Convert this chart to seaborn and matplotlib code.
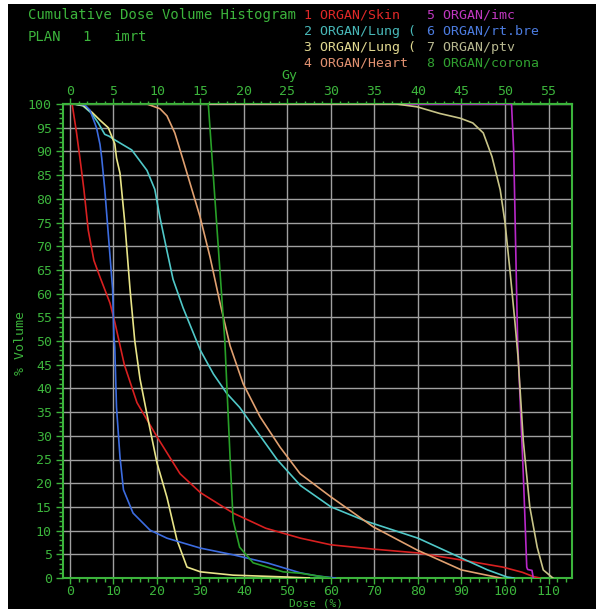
import numpy as np
import pandas as pd
import matplotlib
matplotlib.use("Agg")
import matplotlib.pyplot as plt
from matplotlib.patches import Rectangle
from matplotlib.ticker import MultipleLocator
import seaborn as sns

# ---------------- data (dose in %, volume in %) ----------------
skin_x = [0, 0.5, 1.5, 2.3, 3.2, 4.2, 5.5, 6.9, 9.2, 10.3, 12.5, 15.4, 20, 25.3, 30, 37.5, 45, 53, 60, 69.7, 79.8, 90, 99.5, 104, 106.5, 108]
skin_y = [100, 100, 94, 88.5, 82, 73.4, 67, 63.5, 58, 54, 45, 37, 29.8, 22, 18, 13.7, 10.5, 8.4, 7, 6.1, 5.3, 3.8, 2.3, 1.2, 0.3, 0]

lung1_x = [1, 3, 5, 6.5, 8, 9, 10, 12, 14.2, 17.7, 19.5, 20.7, 22.3, 23.7, 26, 30, 33, 36, 39, 43.7, 47.6, 53, 60, 68, 80, 90, 96, 100.5, 102]
lung1_y = [100, 99.6, 98, 96, 93.6, 93.2, 92.6, 91.5, 90.3, 86, 82, 76, 69, 63, 57, 48, 43, 39, 36, 30, 25, 19.5, 15, 12, 8.4, 4.2, 1.7, 0.2, 0]

lung2_x = [1, 3, 5, 7, 8.8, 10.3, 10.7, 11.5, 12.6, 13.8, 14.9, 16.1, 17.6, 20, 22.3, 24.6, 26.9, 30, 37.5, 50, 55]
lung2_y = [100, 99.7, 98.3, 96.5, 95, 91.6, 88.6, 85.4, 75, 61, 50, 42, 35, 24.3, 17, 8, 2.3, 1.3, 0.6, 0.2, 0]

heart_x = [0, 17.7, 20.7, 22.3, 24.1, 26, 29.9, 32.2, 34.5, 36.8, 39.8, 43.7, 48.3, 52.9, 60, 69.7, 79.8, 90, 95.8, 99]
heart_y = [100, 100, 99, 97.5, 93.9, 88.2, 76.2, 67.7, 58, 49, 41, 34, 27.6, 22, 17.1, 10.8, 5.9, 1.7, 0.6, 0]

imc_x = [0, 101.5, 102.0, 102.9, 104.2, 105.0, 105.2, 106.2, 106.5]
imc_y = [100, 100, 90, 50, 22, 2.3, 1.8, 1.6, 0]

rtbre_x = [1.6, 3.4, 4.6, 6.1, 6.9, 7.3, 8.0, 8.6, 9.2, 9.8, 10.1, 10.3, 10.7, 11.5, 12.3, 14.5, 18.4, 22.3, 30, 37.5, 45.3, 52.9, 57, 61]
rtbre_y = [100, 99.8, 98.7, 95, 91.5, 88.6, 82, 75, 68, 61, 51, 48.7, 36, 25.5, 18.6, 13.7, 10.1, 8.4, 6.3, 4.9, 3.2, 1.1, 0.4, 0]

ptv_x = [0, 75, 79.8, 85, 89.7, 92.6, 95, 97, 98.9, 100, 101.2, 102.3, 103, 104.2, 105.7, 107.4, 108.8, 111]
ptv_y = [100, 100, 99.4, 98, 97, 96, 93.9, 88.9, 81.9, 75, 64.3, 53.8, 46.6, 29, 15, 6.5, 1.7, 0]

corona_x = [0, 31.8, 33.7, 35.6, 36.8, 37.5, 39, 42.1, 49, 53, 60]
corona_y = [100, 100, 75, 50, 25.5, 12.2, 6.5, 3.2, 1.3, 1, 0]

organ_labels = ["1 ORGAN/Skin", "2 ORGAN/Lung (", "3 ORGAN/Lung (", "4 ORGAN/Heart",
                "5 ORGAN/imc", "6 ORGAN/rt.bre", "7 ORGAN/ptv", "8 ORGAN/corona"]
line_colors = ["#d82020", "#50c8c8", "#e8e488", "#e0a070", "#b828c8", "#3c6ce0", "#c8c488", "#28a028"]
text_colors = ["#e02828", "#48b8b8", "#e0d890", "#e09070", "#c038c0", "#4c7ce0", "#b8b890", "#30a030"]

bottom_ticks = list(range(0, 111, 10))
top_ticks = list(range(0, 56, 5))
y_ticks = list(range(0, 101, 5))

curves = [(skin_x, skin_y), (lung1_x, lung1_y), (lung2_x, lung2_y), (heart_x, heart_y),
          (imc_x, imc_y), (rtbre_x, rtbre_y), (ptv_x, ptv_y), (corona_x, corona_y)]
frames = []
for lab, (xs, ys) in zip(organ_labels, curves):
    frames.append(pd.DataFrame({"dose": xs, "volume": ys, "organ": lab}))
df = pd.concat(frames, ignore_index=True)

# ---------------- figure ----------------
W, H = 600, 609
GREEN = "#3cb43c"
MONO = "DejaVu Sans Mono"

fig = plt.figure(figsize=(W / 100, H / 100), dpi=100)
fig.patch.set_facecolor("white")
fig.add_artist(Rectangle((8 / W, 0), (596 - 8) / W, (H - 4) / H, transform=fig.transFigure,
                         facecolor="black", edgecolor="none", zorder=-10))

def fx(px):
    return px / W

def fy(py):
    return 1 - py / H

ax = fig.add_axes([fx(63), fy(578), (572 - 63) / W, (578 - 104) / H])
ax.set_facecolor("black")

sns.lineplot(data=df, x="dose", y="volume", hue="organ", hue_order=organ_labels,
             palette=dict(zip(organ_labels, line_colors)), estimator=None, sort=False,
             linewidth=1.2, legend=False, ax=ax, zorder=3)

ax.set_xlim(-1.6, 115.4)
ax.set_ylim(0, 100)
ax.set_xticks(bottom_ticks)
ax.set_yticks(y_ticks)
ax.xaxis.set_minor_locator(MultipleLocator(2))
ax.yaxis.set_minor_locator(MultipleLocator(1))
ax.grid(True, which="major", color="#a0a0a0", linewidth=1.0, zorder=1)
ax.set_axisbelow(True)

for sp in ax.spines.values():
    sp.set_color(GREEN)
    sp.set_linewidth(1.5)

ax.tick_params(axis="both", which="major", colors=GREEN, length=5, width=1, labelsize=9.5, pad=3)
ax.tick_params(axis="x", which="major", length=4, pad=1)
ax.tick_params(axis="both", which="minor", colors=GREEN, length=3, width=1)
for lbl in ax.get_xticklabels() + ax.get_yticklabels():
    lbl.set_family(MONO)
    lbl.set_color(GREEN)

ax.set_xlabel("")
ax.set_ylabel("")

# top Gy axis
sec = ax.secondary_xaxis("top", functions=(lambda x: x / 2.0, lambda g: g * 2.0))
sec.set_xticks(top_ticks)
sec.xaxis.set_minor_locator(MultipleLocator(1))
sec.tick_params(axis="x", which="major", colors=GREEN, length=4, width=1, labelsize=9.5, pad=0)
sec.tick_params(axis="x", which="minor", colors=GREEN, length=2.5, width=1)
sec.spines["top"].set_color(GREEN)
sec.spines["top"].set_linewidth(1.5)
for lbl in sec.get_xticklabels():
    lbl.set_family(MONO)
    lbl.set_color(GREEN)

# texts
fig.text(fx(28), fy(15), "Cumulative Dose Volume Histogram", color=GREEN, family=MONO,
         fontsize=10, ha="left", va="center")
fig.text(fx(28), fy(37), "PLAN", color=GREEN, family=MONO, fontsize=10, ha="left", va="center")
fig.text(fx(82), fy(37), "1", color=GREEN, family=MONO, fontsize=10, ha="left", va="center")
fig.text(fx(114), fy(37), "imrt", color=GREEN, family=MONO, fontsize=10, ha="left", va="center")

col_x = [304, 427]
row_y = [15, 31, 47, 63]
for i, (lab, c) in enumerate(zip(organ_labels, text_colors)):
    fig.text(fx(col_x[i // 4]), fy(row_y[i % 4]), lab, color=c, family=MONO,
             fontsize=9.5, ha="left", va="center")

fig.text(fx(289), fy(75), "Gy", color=GREEN, family=MONO, fontsize=9.5, ha="center", va="center")
fig.text(fx(20), fy(343), "% Volume", color=GREEN, family=MONO, fontsize=9.5,
         rotation=90, ha="center", va="center")
fig.text(fx(316), fy(608), "Dose (%)", color=GREEN, family=MONO, fontsize=8,
         ha="center", va="bottom")

fig.savefig("out.png", dpi=100, facecolor=fig.get_facecolor())
